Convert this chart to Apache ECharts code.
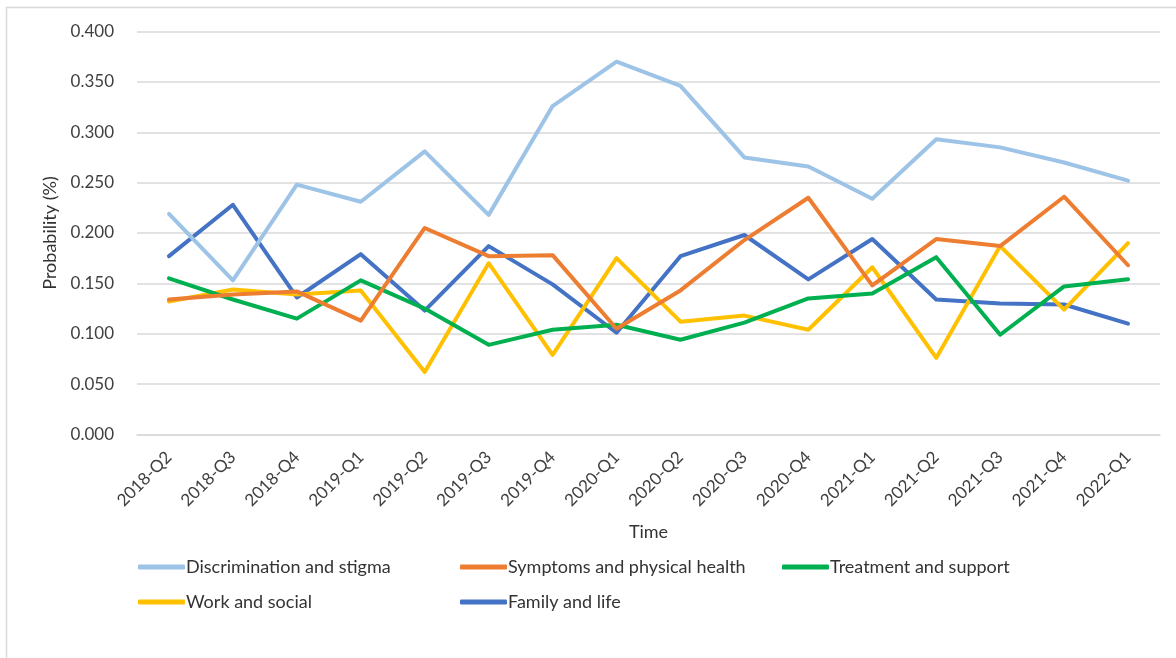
<!DOCTYPE html>
<html>
<head>
<meta charset="utf-8">
<script src="https://cdn.jsdelivr.net/npm/echarts@6/dist/echarts.min.js"></script>
<style>
  html, body { margin: 0; padding: 0; background: #fff; }
  #chart { width: 1176px; height: 658px; }
</style>
</head>
<body>
<div id="chart"></div>
<script>
var quarters = ['2018-Q2', '2018-Q3', '2018-Q4', '2019-Q1', '2019-Q2', '2019-Q3', '2019-Q4', '2020-Q1',
    '2020-Q2', '2020-Q3', '2020-Q4', '2021-Q1', '2021-Q2', '2021-Q3', '2021-Q4', '2022-Q1'];

var discrimination = [0.219, 0.153, 0.248, 0.231, 0.281, 0.218, 0.326, 0.370, 0.346, 0.275, 0.266, 0.234, 0.293, 0.285, 0.270, 0.252];
var symptoms       = [0.134, 0.139, 0.142, 0.113, 0.205, 0.177, 0.178, 0.105, 0.143, 0.193, 0.235, 0.148, 0.194, 0.187, 0.236, 0.168];
var treatment      = [0.155, 0.134, 0.115, 0.153, 0.125, 0.089, 0.104, 0.109, 0.094, 0.111, 0.135, 0.140, 0.176, 0.099, 0.147, 0.154];
var workSocial     = [0.132, 0.144, 0.139, 0.143, 0.062, 0.170, 0.079, 0.175, 0.112, 0.118, 0.104, 0.166, 0.076, 0.187, 0.124, 0.190];
var familyLife     = [0.177, 0.228, 0.136, 0.179, 0.123, 0.187, 0.149, 0.101, 0.177, 0.198, 0.154, 0.194, 0.134, 0.130, 0.129, 0.110];

var yTicks = [0, 0.05, 0.1, 0.15, 0.2, 0.25, 0.3, 0.35, 0.4];

var names = ['Discrimination and stigma', 'Symptoms and physical health', 'Treatment and support', 'Work and social', 'Family and life'];
var colors = ['#9DC3E6', '#ED7D31', '#00B050', '#FFC000', '#4472C4'];
var values = [discrimination, symptoms, treatment, workSocial, familyLife];

var font = 'Lato, "Liberation Sans", sans-serif';

var dom = document.getElementById('chart');
var myChart = echarts.init(dom);

function makeLegend(left, data) {
    return {
        left: left,
        top: 553,
        orient: 'vertical',
        itemGap: 17,
        itemWidth: 47,
        itemHeight: 5,
        icon: 'roundRect',
        selectedMode: false,
        textStyle: { fontFamily: font, fontSize: 18, lineHeight: 18, color: '#333', padding: [0, 0, 0, -4] },
        data: data
    };
}

var series = [];
for (var i = 0; i < names.length; i++) {
    series.push({
        name: names[i],
        type: 'line',
        data: values[i],
        symbol: 'none',
        lineStyle: { width: 4, color: colors[i], join: 'round', cap: 'round' },
        itemStyle: { color: colors[i] },
        z: 10 - i
    });
}
// family sits above work, like the reference
series[4].z = 6;
series[3].z = 7;

var option = {
    animation: false,
    backgroundColor: '#fff',
    graphic: [{
        type: 'rect',
        shape: { x: 6.5, y: 7.5, width: 1175, height: 700 },
        style: { fill: 'none', stroke: '#d9d9d9', lineWidth: 1.5 },
        silent: true
    }],
    grid: { left: 137, right: 16, top: 31.5, bottom: 223.5 },
    legend: [
        makeLegend(133, [names[0], names[3]]),
        makeLegend(455, [names[1], names[4]]),
        makeLegend(777, [names[2]])
    ],
    xAxis: {
        type: 'category',
        data: quarters,
        boundaryGap: true,
        name: 'Time',
        nameLocation: 'middle',
        nameGap: 89,
        nameTextStyle: { fontFamily: font, fontSize: 18, color: '#333' },
        axisLine: { show: true, lineStyle: { color: '#d9d9d9', width: 1.5 } },
        axisTick: { show: false },
        axisLabel: {
            rotate: 45,
            margin: 20,
            fontFamily: font,
            fontSize: 17,
            color: '#404040'
        }
    },
    yAxis: {
        type: 'value',
        min: 0,
        max: 0.4,
        interval: 0.05,
        name: 'Probability (%)',
        nameLocation: 'middle',
        nameGap: 78,
        nameRotate: 90,
        nameTextStyle: { fontFamily: font, fontSize: 18, color: '#333' },
        axisLine: { show: false },
        axisTick: { show: false },
        splitLine: { lineStyle: { color: '#d9d9d9', width: 1.5 } },
        axisLabel: {
            margin: 23,
            fontFamily: font,
            fontSize: 17,
            color: '#404040',
            formatter: function (v) {
                return yTicks.indexOf(Math.round(v * 100) / 100) >= 0 ? v.toFixed(3) : '';
            }
        }
    },
    series: series
};

if (option && typeof option === "object") {
    myChart.setOption(option, true);
}
</script>
</body>
</html>
